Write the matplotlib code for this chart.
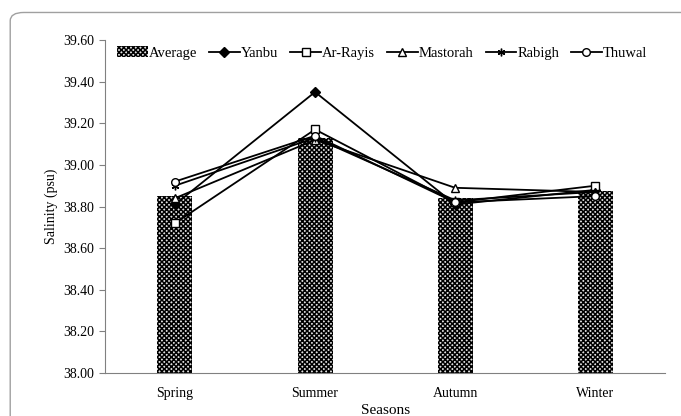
import numpy as np
import matplotlib.pyplot as plt
from matplotlib.patches import FancyBboxPatch

seasons = ['Spring', 'Summer', 'Autumn', 'Winter']
average = [38.85, 39.13, 38.84, 38.875]
yanbu = [38.81, 39.35, 38.81, 38.88]
ar_rayis = [38.72, 39.17, 38.82, 38.90]
mastorah = [38.84, 39.12, 38.89, 38.87]
rabigh = [38.90, 39.13, 38.83, 38.87]
thuwal = [38.92, 39.14, 38.82, 38.85]

plt.rcParams['font.family'] = ['Liberation Serif', 'DejaVu Serif']
plt.rcParams['hatch.linewidth'] = 1.1

fig = plt.figure(figsize=(6.81, 4.16), dpi=100)
ax = fig.add_axes([0.154, 0.103, 0.823, 0.801])

frame = FancyBboxPatch((0.015, -0.05), 1.05, 1.02, boxstyle='round,pad=0,rounding_size=0.02',
                       transform=fig.transFigure, facecolor='none', edgecolor='#a0a0a0',
                       linewidth=1.0, clip_on=False)
fig.patches.append(frame)

x = np.arange(len(seasons))
ax.bar(x, [v - 38.0 for v in average], bottom=38.0, width=0.25, color='#e0e0e0',
       edgecolor='black', hatch='xxxxxxx', linewidth=0, label='Average')

series = [(yanbu, 'Yanbu', 'D', 'black'),
          (ar_rayis, 'Ar-Rayis', 's', 'white'),
          (mastorah, 'Mastorah', '^', 'white'),
          (rabigh, 'Rabigh', (6, 2, 0), 'black'),
          (thuwal, 'Thuwal', 'o', 'white')]
for vals, name, mk, fc in series:
    ax.plot(x, vals, color='black', linewidth=1.3, marker=mk, markersize=5.5,
            markerfacecolor=fc, markeredgecolor='black', markeredgewidth=1.0, label=name)

ax.set_xlim(-0.5, 3.5)
ax.set_ylim(38.0, 39.6)
ax.set_yticks(np.arange(38.0, 39.61, 0.2))
ax.set_yticklabels(['%.2f' % v for v in np.arange(38.0, 39.61, 0.2)], fontsize=10)
ax.set_xticks(x)
ax.set_xticklabels(seasons, fontsize=10)
ax.tick_params(axis='x', length=0, pad=10)
ax.tick_params(axis='y', length=4, direction='out', color='#808080')
for s in ['top', 'right']:
    ax.spines[s].set_visible(False)
ax.spines['left'].set_color('#808080')
ax.spines['bottom'].set_color('#808080')
ax.set_ylabel('Salinity (psu)', fontsize=10)
ax.set_xlabel('Seasons', fontsize=11, labelpad=3)

handles, labels = ax.get_legend_handles_labels()
order = [labels.index('Average')] + [i for i, l in enumerate(labels) if l != 'Average']
ax.legend([handles[i] for i in order], [labels[i] for i in order],
          loc='upper center', bbox_to_anchor=(0.495, 1.02), ncol=6, frameon=False,
          fontsize=10.5, handlelength=2.1, handletextpad=0.1, columnspacing=0.8)

fig.savefig('out.png', dpi=100)
